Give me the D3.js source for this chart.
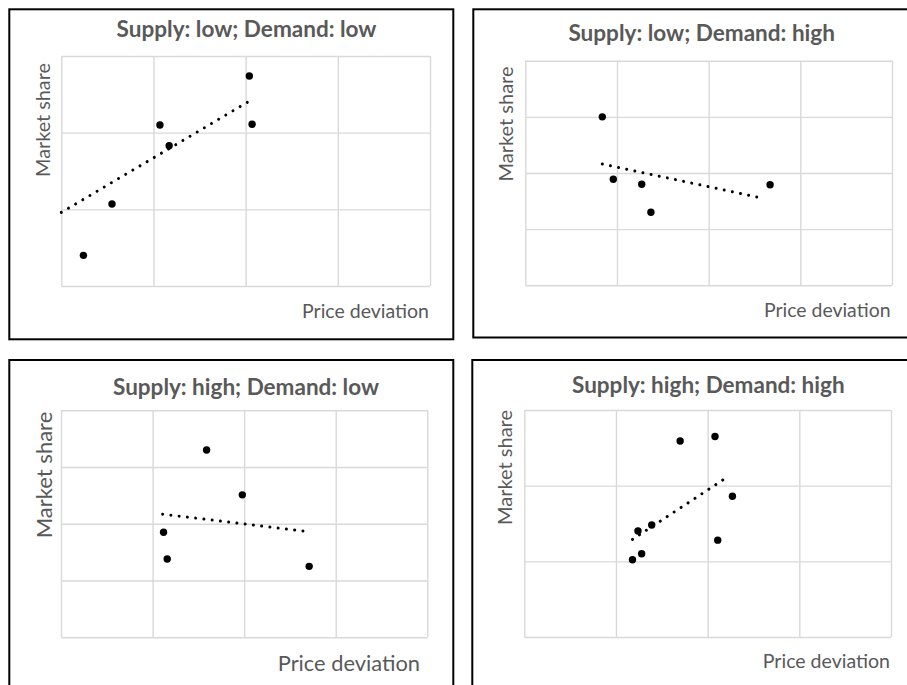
<!DOCTYPE html>
<html>
<head>
<meta charset="utf-8">
<script src="https://cdn.jsdelivr.net/npm/d3@7"></script>
<style>
  html, body { margin: 0; padding: 0; background: #ffffff; }
  svg { display: block; }
  text { font-family: Lato, "Open Sans", sans-serif; fill: #595959; }
</style>
</head>
<body>
<svg id="chart" width="907" height="685"></svg>
<script>
// Panel titles
const titles = [
  "Supply: low; Demand: low",
  "Supply: low; Demand: high",
  "Supply: high; Demand: low",
  "Supply: high; Demand: high"
];
const xLabel = "Price deviation";
const yLabel = "Market share";

// Observations: price deviation (x) and market share (y), one pair of arrays per panel
const lowLowX   = [0.24, 0.55, 1.07, 1.17, 2.04, 2.07];
const lowLowY   = [0.40, 1.07, 2.10, 1.83, 2.74, 2.11];
const lowHighX  = [0.84, 0.96, 1.27, 1.37, 2.67];
const lowHighY  = [3.00, 1.89, 1.80, 1.30, 1.79];
const highLowX  = [1.59, 1.98, 1.12, 1.16, 2.71];
const highLowY  = [3.30, 2.51, 1.85, 1.38, 1.25];
const highHighX = [1.70, 2.08, 2.27, 1.24, 1.39, 2.11, 1.28, 1.18];
const highHighY = [2.59, 2.65, 1.86, 1.40, 1.48, 1.28, 1.10, 1.02];

// Trend line end points [x0, x1] and [y0, y1]
const lowLowTrendX   = [0.00, 2.08];
const lowLowTrendY   = [0.96, 2.44];
const lowHighTrendX  = [0.84, 2.59];
const lowHighTrendY  = [2.16, 1.55];
const highLowTrendX  = [1.11, 2.71];
const highLowTrendY  = [2.17, 1.86];
const highHighTrendX = [1.18, 2.21];
const highHighTrendY = [1.29, 2.11];

// Axis extents (gridlines every unit)
const xMax = 4;
const yMaxes = [3, 4, 4, 3];

const seriesX = [lowLowX, lowHighX, highLowX, highHighX];
const seriesY = [lowLowY, lowHighY, highLowY, highHighY];
const trendX = [lowLowTrendX, lowHighTrendX, highLowTrendX, highHighTrendX];
const trendY = [lowLowTrendY, lowHighTrendY, highLowTrendY, highHighTrendY];

// Frame, plot-area and label geometry of each panel (label widths are the run lengths to fit)
const layout = [
  { box: [9.3, 9.3, 453.3, 339.3], plot: [61.3, 56, 430, 286],
    titleX: 246.5, titleY: 36.5, titleW: 260,
    yLabX: 50, yLabY: 120, yLabW: 114,
    xLabX: 429, xLabY: 317.5, xLabW: 127 },
  { box: [473.3, 9.3, 909, 337.5], plot: [525.3, 60.7, 892, 285.3],
    titleX: 701.7, titleY: 40.5, titleW: 266.7,
    yLabX: 512.5, yLabY: 124, yLabW: 115,
    xLabX: 890.5, xLabY: 316.5, xLabW: 126.7 },
  { box: [9.3, 360, 453.3, 700], plot: [61, 410.3, 427.3, 637.3],
    titleX: 246, titleY: 395, titleW: 266,
    yLabX: 51.7, yLabY: 475, yLabW: 126.6,
    xLabX: 420, xLabY: 670.5, xLabW: 142.3 },
  { box: [472.3, 360, 909, 700], plot: [524.3, 410, 891, 637],
    titleX: 708.3, titleY: 392.5, titleW: 272.7,
    yLabX: 512.3, yLabY: 467.5, yLabW: 115,
    xLabX: 890, xLabY: 668, xLabW: 127.3 }
];

const svg = d3.select("#chart");

// Scale a text's font size so its rendered run has the wanted width
function fitWidth(sel, width, base) {
  sel.attr("font-size", base);
  const w = sel.node().getComputedTextLength();
  if (w > 0) sel.attr("font-size", base * width / w);
  return sel;
}

layout.forEach((L, i) => {
  const g = svg.append("g").attr("class", "panel");
  const [bx0, by0, bx1, by1] = L.box;
  const [px0, py0, px1, py1] = L.plot;

  const x = d3.scaleLinear().domain([0, xMax]).range([px0, px1]);
  const y = d3.scaleLinear().domain([0, yMaxes[i]]).range([py1, py0]);

  // Gridlines (including the outer edges of the plot area)
  g.append("g")
    .attr("transform", `translate(0,${py1})`)
    .call(d3.axisBottom(x).tickValues(d3.range(0, xMax + 1)).tickSize(-(py1 - py0)).tickFormat(""))
    .call(a => a.select(".domain").remove())
    .call(a => a.selectAll(".tick line").attr("stroke", "#d9d9d9").attr("stroke-width", 1.4));
  g.append("g")
    .attr("transform", `translate(${px0},0)`)
    .call(d3.axisLeft(y).tickValues(d3.range(0, yMaxes[i] + 1)).tickSize(-(px1 - px0)).tickFormat(""))
    .call(a => a.select(".domain").remove())
    .call(a => a.selectAll(".tick line").attr("stroke", "#d9d9d9").attr("stroke-width", 1.4));

  // Dotted linear trend line
  const tl = d3.line().x(d => x(d[0])).y(d => y(d[1]));
  g.append("path")
    .datum(d3.zip(trendX[i], trendY[i]))
    .attr("d", tl)
    .attr("fill", "none")
    .attr("stroke", "#000")
    .attr("stroke-width", 3)
    .attr("stroke-linecap", "round")
    .attr("stroke-dasharray", "0.01 8.3");

  // Observation markers
  g.selectAll("circle.pt")
    .data(d3.zip(seriesX[i], seriesY[i]))
    .join("circle")
    .attr("class", "pt")
    .attr("cx", d => x(d[0]))
    .attr("cy", d => y(d[1]))
    .attr("r", 3.7)
    .attr("fill", "#000");

  // Title and axis titles
  const t = g.append("text")
    .attr("x", L.titleX).attr("y", L.titleY)
    .attr("text-anchor", "middle")
    .attr("font-weight", "bold")
    .text(titles[i]);
  fitWidth(t, L.titleW, 18);

  const yl = g.append("text")
    .attr("transform", `translate(${L.yLabX},${L.yLabY}) rotate(-90)`)
    .attr("text-anchor", "middle")
    .text(yLabel);
  fitWidth(yl, L.yLabW, 18);

  const xl = g.append("text")
    .attr("x", L.xLabX).attr("y", L.xLabY)
    .attr("text-anchor", "end")
    .text(xLabel);
  fitWidth(xl, L.xLabW, 18);

  // Chart frame
  g.append("rect")
    .attr("x", bx0).attr("y", by0)
    .attr("width", bx1 - bx0).attr("height", by1 - by0)
    .attr("fill", "none")
    .attr("stroke", "#000")
    .attr("stroke-width", 2);
});
</script>
</body>
</html>
